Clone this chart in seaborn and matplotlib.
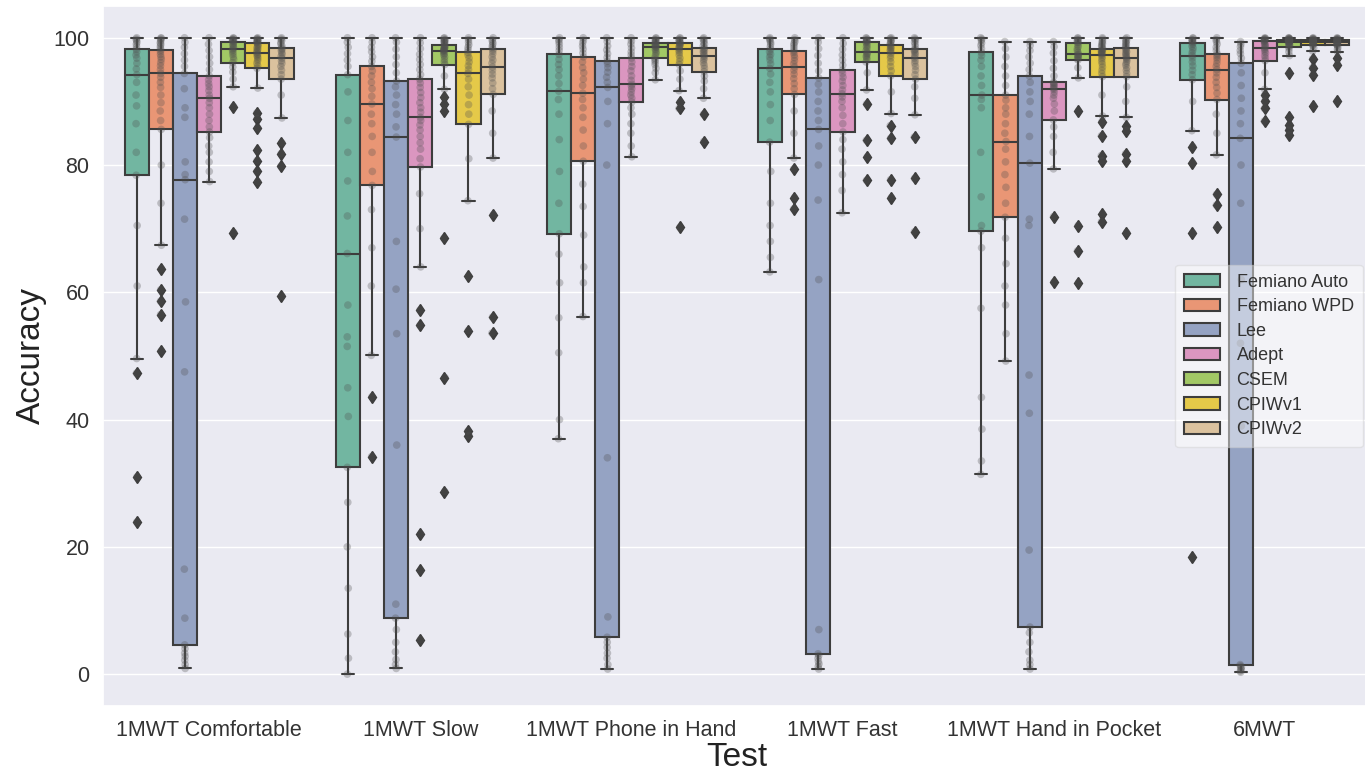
import numpy as np
import pandas as pd
import matplotlib
matplotlib.use("Agg")
import matplotlib.pyplot as plt
import seaborn as sns

# ---------------- data ----------------
tests = ["1MWT Comfortable", "1MWT Slow", "1MWT Phone in Hand",
         "1MWT Fast", "1MWT Hand in Pocket", "6MWT"]
algorithms = ["Femiano Auto", "Femiano WPD", "Lee", "Adept", "CSEM", "CPIWv1", "CPIWv2"]

comfortable = {
    "Femiano Auto": [23.9, 31.0, 47.3, 49.6, 61.0, 70.5, 78.4, 82.0, 86.5, 89.3, 91.0, 93.0, 94.2,
                     95.1, 96.0, 96.8, 97.3, 97.8, 98.2, 98.6, 99.0, 99.3, 99.6, 99.8, 100.0],
    "Femiano WPD": [50.8, 56.5, 58.6, 60.4, 63.7, 67.4, 74.0, 80.0, 85.6, 87.0, 88.5, 89.8, 91.0,
                    92.2, 93.0, 93.8, 94.4, 95.0, 95.6, 96.1, 96.6, 97.0, 97.4, 97.8, 98.1,
                    98.4, 98.7, 99.0, 99.2, 99.5, 99.7, 99.9, 100.0],
    "Lee": [0.9, 1.5, 2.2, 2.8, 3.3, 4.0, 4.6, 8.8, 16.5, 47.5, 58.5, 71.5, 77.7,
            78.5, 80.5, 87.5, 89.0, 92.0, 94.4, 95.5, 96.5, 97.5, 98.5, 99.3, 100.0],
    "Adept": [77.4, 79.0, 80.5, 82.0, 83.0, 84.3, 85.2, 86.0, 87.0, 88.0, 89.0, 89.8, 90.5,
              91.0, 91.7, 92.3, 92.8, 93.4, 94.0, 95.0, 96.0, 97.0, 98.0, 99.0, 100.0],
    "CSEM": [69.4, 89.2, 92.3, 93.5, 94.6, 95.4, 96.1, 96.6, 97.0, 97.4, 97.7, 98.0, 98.2,
             98.4, 98.6, 98.8, 99.0, 99.2, 99.4, 99.5, 99.6, 99.7, 99.8, 99.9, 100.0],
    "CPIWv1": [77.4, 79.0, 80.7, 82.3, 85.8, 87.3, 88.2, 92.1, 95.2, 95.6, 96.0, 96.4, 96.7,
               97.0, 97.2, 97.4, 97.6, 97.8, 98.0, 98.2, 98.4, 98.6, 98.8, 99.0, 99.2,
               99.3, 99.4, 99.5, 99.6, 99.7, 99.8, 99.9, 100.0],
    "CPIWv2": [59.4, 79.8, 81.8, 83.5, 87.4, 91.0, 93.5, 94.2, 94.9, 95.5, 96.0, 96.4, 96.8,
               97.1, 97.4, 97.7, 98.0, 98.2, 98.4, 98.7, 99.0, 99.3, 99.6, 99.8, 100.0],
}

slow = {
    "Femiano Auto": [0.0, 2.5, 6.3, 13.5, 20.0, 27.0, 32.5, 40.5, 45.0, 51.5, 53.0, 58.0, 66.1,
                     72.0, 77.5, 82.0, 87.0, 91.5, 94.2, 95.5, 96.5, 97.5, 98.5, 99.3, 100.0],
    "Femiano WPD": [34.2, 43.6, 50.1, 61.0, 67.0, 73.0, 76.8, 79.0, 82.0, 84.5, 86.5, 88.0, 89.6,
                    90.8, 92.0, 93.0, 94.0, 94.8, 95.5, 96.3, 97.0, 97.8, 98.5, 99.3, 100.0],
    "Lee": [0.9, 1.5, 2.3, 3.5, 5.0, 7.0, 8.8, 11.0, 36.0, 53.5, 60.5, 68.0, 84.4,
            86.0, 88.0, 89.5, 91.0, 92.3, 93.2, 94.5, 95.8, 97.0, 98.2, 99.3, 100.0],
    "Adept": [5.4, 16.3, 22.0, 54.8, 57.2, 64.0, 70.0, 75.5, 79.7, 81.0, 82.5, 83.5, 84.5,
              85.5, 86.3, 87.0, 87.5, 88.3, 89.0, 89.8, 90.6, 91.4, 92.2, 92.9, 93.5,
              94.2, 95.0, 95.8, 96.6, 97.4, 98.3, 99.2, 100.0],
    "CSEM": [28.7, 46.6, 68.5, 88.5, 89.6, 90.7, 91.9, 94.0, 95.8, 96.2, 96.6, 97.0, 97.3,
             97.5, 97.7, 97.9, 98.0, 98.1, 98.2, 98.3, 98.4, 98.5, 98.6, 98.8, 98.9,
             99.1, 99.3, 99.4, 99.5, 99.6, 99.7, 99.9, 100.0],
    "CPIWv1": [37.5, 38.2, 54.0, 62.5, 74.4, 81.0, 86.4, 88.0, 89.5, 91.0, 92.3, 93.5, 94.4,
               95.0, 95.6, 96.2, 96.8, 97.3, 97.7, 98.1, 98.5, 98.9, 99.3, 99.7, 100.0],
    "CPIWv2": [53.6, 56.1, 72.2, 81.1, 85.0, 88.5, 91.1, 92.0, 92.9, 93.7, 94.3, 94.9, 95.4,
               96.0, 96.5, 97.0, 97.5, 97.9, 98.2, 98.5, 98.8, 99.1, 99.4, 99.7, 100.0],
}

phone = {
    "Femiano Auto": [37.0, 40.0, 50.5, 56.0, 61.5, 66.0, 69.2, 74.0, 79.0, 84.0, 88.0, 90.3, 91.6,
                     92.8, 94.0, 95.0, 95.8, 96.6, 97.4, 98.0, 98.5, 99.0, 99.4, 99.7, 100.0],
    "Femiano WPD": [56.2, 61.5, 64.0, 69.0, 73.5, 77.0, 80.6, 83.0, 85.5, 87.5, 89.0, 90.3, 91.3,
                    92.5, 93.5, 94.5, 95.3, 96.2, 97.0, 97.6, 98.2, 98.7, 99.2, 99.6, 100.0],
    "Lee": [0.8, 1.5, 2.5, 3.3, 4.2, 5.0, 5.8, 9.0, 34.0, 80.0, 86.5, 90.0, 92.2,
            93.0, 93.8, 94.6, 95.3, 95.9, 96.3, 96.9, 97.5, 98.1, 98.7, 99.4, 100.0],
    "Adept": [81.3, 83.0, 85.0, 86.5, 88.0, 89.0, 89.9, 90.5, 91.0, 91.5, 92.0, 92.4, 92.7,
              93.3, 94.0, 94.8, 95.5, 96.2, 96.8, 97.3, 97.8, 98.4, 99.0, 99.5, 100.0],
    "CSEM": [93.4, 94.5, 95.2, 95.8, 96.2, 96.5, 96.8, 97.2, 97.5, 97.8, 98.1, 98.3, 98.5,
             98.6, 98.7, 98.8, 98.9, 99.0, 99.2, 99.3, 99.5, 99.6, 99.7, 99.9, 100.0],
    "CPIWv1": [70.2, 88.9, 89.9, 91.7, 93.5, 94.8, 95.8, 96.3, 96.8, 97.3, 97.7, 98.0, 98.3,
               98.5, 98.7, 98.8, 98.9, 99.1, 99.2, 99.3, 99.5, 99.6, 99.7, 99.9, 100.0],
    "CPIWv2": [83.7, 88.0, 90.5, 92.0, 93.2, 94.0, 94.7, 95.2, 95.7, 96.1, 96.5, 96.8, 97.1,
               97.3, 97.6, 97.8, 98.0, 98.2, 98.4, 98.7, 99.0, 99.3, 99.6, 99.8, 100.0],
}

fast = {
    "Femiano Auto": [63.2, 65.5, 68.0, 70.5, 74.0, 79.0, 83.6, 87.0, 89.5, 91.5, 93.0, 94.3, 95.2,
                     95.9, 96.5, 97.0, 97.4, 97.8, 98.2, 98.6, 99.0, 99.3, 99.6, 99.8, 100.0],
    "Femiano WPD": [73.1, 74.9, 79.4, 81.1, 85.0, 88.5, 91.1, 92.0, 92.8, 93.6, 94.3, 94.9, 95.4,
                    95.9, 96.4, 96.9, 97.3, 97.7, 98.0, 98.4, 98.8, 99.1, 99.4, 99.7, 100.0],
    "Lee": [0.8, 1.2, 1.6, 2.0, 2.5, 2.9, 3.2, 7.0, 62.0, 74.5, 80.0, 83.0, 85.6,
            87.0, 88.5, 90.0, 91.5, 92.7, 93.7, 94.8, 96.0, 97.2, 98.3, 99.3, 100.0],
    "Adept": [72.5, 76.0, 78.5, 80.5, 82.5, 84.0, 85.2, 86.5, 87.8, 89.0, 90.0, 90.7, 91.2,
              91.8, 92.5, 93.2, 93.8, 94.4, 94.9, 95.7, 96.5, 97.3, 98.2, 99.1, 100.0],
    "CSEM": [77.6, 81.3, 83.9, 89.6, 91.8, 94.5, 96.2, 96.6, 96.9, 97.1, 97.3, 97.5, 97.7,
             98.0, 98.3, 98.6, 98.8, 99.1, 99.3, 99.4, 99.5, 99.6, 99.7, 99.9, 100.0],
    "CPIWv1": [74.9, 77.7, 84.2, 86.2, 88.1, 91.5, 94.0, 94.8, 95.5, 96.2, 96.8, 97.2, 97.6,
               97.9, 98.1, 98.3, 98.5, 98.7, 98.9, 99.1, 99.3, 99.5, 99.7, 99.9, 100.0],
    "CPIWv2": [69.5, 77.9, 84.4, 87.9, 90.5, 92.3, 93.5, 94.2, 94.9, 95.5, 96.0, 96.4, 96.8,
               97.1, 97.4, 97.7, 97.9, 98.1, 98.2, 98.6, 99.0, 99.3, 99.6, 99.8, 100.0],
}

pocket = {
    "Femiano Auto": [31.4, 33.5, 38.5, 43.5, 57.5, 67.0, 69.6, 70.5, 75.0, 82.0, 89.0, 90.3, 91.0,
                     92.5, 94.0, 95.5, 96.5, 97.2, 97.7, 98.3, 98.8, 99.2, 99.6, 99.8, 100.0],
    "Femiano WPD": [49.2, 53.5, 58.0, 61.0, 64.5, 68.5, 71.8, 74.0, 76.5, 78.5, 80.5, 82.5, 83.7,
                    85.0, 86.5, 88.0, 89.0, 90.2, 91.0, 92.5, 94.0, 95.5, 97.0, 98.3, 99.4],
    "Lee": [0.8, 1.5, 2.2, 3.5, 5.0, 6.5, 7.4, 19.5, 41.0, 47.0, 70.5, 71.5, 80.3,
            84.5, 88.0, 90.0, 91.5, 93.0, 94.0, 95.0, 96.0, 97.0, 98.0, 98.8, 99.4],
    "Adept": [61.6, 71.9, 79.4, 82.0, 84.5, 86.0, 87.1, 88.5, 89.6, 90.5, 91.0, 91.5, 91.9,
              92.1, 92.3, 92.5, 92.7, 92.9, 93.0, 94.0, 95.2, 96.4, 97.6, 98.6, 99.4],
    "CSEM": [61.5, 66.5, 70.5, 88.5, 93.7, 95.3, 96.5, 96.7, 96.9, 97.0, 97.1, 97.3, 97.4,
             97.7, 98.0, 98.3, 98.6, 98.9, 99.2, 99.3, 99.5, 99.6, 99.7, 99.9, 100.0],
    "CPIWv1": [71.1, 72.3, 80.7, 81.5, 84.6, 86.8, 87.7, 91.0, 93.9, 94.4, 94.9, 95.4, 95.9,
               96.3, 96.7, 97.0, 97.3, 97.45, 97.6, 97.7, 97.8, 97.9, 98.0, 98.15, 98.3,
               98.5, 98.7, 98.9, 99.1, 99.3, 99.5, 99.8, 100.0],
    "CPIWv2": [69.4, 80.7, 81.8, 85.4, 86.1, 87.5, 90.0, 92.3, 93.9, 94.4, 94.9, 95.3, 95.7,
               96.0, 96.3, 96.6, 96.8, 97.0, 97.2, 97.4, 97.6, 97.8, 98.0, 98.2, 98.4,
               98.6, 98.8, 99.0, 99.2, 99.4, 99.6, 99.8, 100.0],
}

six_min = {
    "Femiano Auto": [18.4, 69.3, 80.3, 82.9, 85.4, 90.0, 93.4, 94.2, 94.9, 95.6, 96.2, 96.8, 97.2,
                     97.6, 98.0, 98.4, 98.7, 99.0, 99.2, 99.4, 99.5, 99.6, 99.7, 99.9, 100.0],
    "Femiano WPD": [70.3, 73.7, 75.4, 81.6, 85.0, 88.0, 90.3, 91.3, 92.2, 93.0, 93.8, 94.5, 95.0,
                    95.5, 96.0, 96.5, 96.9, 97.2, 97.5, 98.0, 98.5, 99.0, 99.4, 99.7, 100.0],
    "Lee": [0.3, 0.5, 0.7, 0.9, 1.1, 1.3, 1.5, 39.0, 52.0, 62.0, 74.0, 80.0, 84.2,
            86.5, 88.5, 90.5, 92.5, 94.5, 96.0, 96.8, 97.5, 98.0, 98.6, 99.0, 99.4],
    "Adept": [86.9, 88.9, 90.0, 91.0, 91.9, 94.5, 96.4, 96.8, 97.2, 97.6, 97.9, 98.2, 98.4,
              98.6, 98.8, 99.0, 99.2, 99.4, 99.5, 99.6, 99.7, 99.8, 99.85, 99.9, 100.0],
    "CSEM": [84.7, 85.5, 86.3, 87.5, 94.4, 97.2, 97.8, 98.3, 98.6, 98.75, 98.9, 99.0, 99.1,
             99.2, 99.3, 99.35, 99.4, 99.42, 99.45, 99.48, 99.5, 99.53, 99.56, 99.58, 99.6,
             99.65, 99.7, 99.75, 99.8, 99.85, 99.9, 99.95, 100.0],
    "CPIWv1": [89.3, 94.2, 95.3, 96.7, 97.9, 98.4, 98.8, 98.9, 99.0, 99.1, 99.15, 99.25, 99.3,
               99.35, 99.4, 99.45, 99.5, 99.55, 99.6, 99.65, 99.7, 99.8, 99.85, 99.9, 100.0],
    "CPIWv2": [90.0, 95.8, 96.8, 97.8, 98.2, 98.5, 98.8, 98.9, 99.0, 99.1, 99.15, 99.25, 99.3,
               99.35, 99.4, 99.45, 99.5, 99.55, 99.6, 99.65, 99.7, 99.8, 99.85, 99.9, 100.0],
}

per_test = [comfortable, slow, phone, fast, pocket, six_min]

rows = []
for test, table in zip(tests, per_test):
    for alg in algorithms:
        for v in table[alg]:
            rows.append((test, alg, v))
df = pd.DataFrame(rows, columns=["Test", "Algorithm", "Accuracy"])

# ---------------- style ----------------
sns.set_theme(style="darkgrid")
plt.rcParams["font.family"] = ["Liberation Sans", "DejaVu Sans"]
np.random.seed(3)

fig = plt.figure(figsize=(13.65, 7.74), dpi=100)
ax = fig.add_axes([0.0758, 0.0879, 0.9282, 0.9044])

palette = sns.color_palette("Set2", 7)
line_gray = "#3d3d3d"

sns.boxplot(data=df, x="Test", y="Accuracy", hue="Algorithm", order=tests,
            hue_order=algorithms, palette=palette, saturation=0.75, width=0.8,
            linewidth=1.5, linecolor=line_gray,
            flierprops=dict(marker="d", markerfacecolor=line_gray,
                            markeredgecolor=line_gray, markersize=6),
            ax=ax)

sns.stripplot(data=df, x="Test", y="Accuracy", hue="Algorithm", order=tests,
              hue_order=algorithms, palette=["#505050"] * 7, dodge=True,
              jitter=0.022, size=5.5, alpha=0.3, linewidth=0, legend=False, ax=ax)

ax.set_xlim(-0.5, 5.5)
ax.set_ylim(-5, 105)
ax.set_yticks([0, 20, 40, 60, 80, 100])
ax.tick_params(axis="both", labelsize=15.5, pad=4, labelcolor="#333333")
ax.set_xlabel("Test", fontsize=24, labelpad=1, color="#222222")
ax.set_ylabel("Accuracy", fontsize=24, labelpad=5, color="#222222")

handles, labels = ax.get_legend_handles_labels()
leg = ax.legend(handles[:7], labels[:7], loc="center right",
                bbox_to_anchor=(1.001, 0.5), fontsize=13, frameon=True,
                facecolor="white", framealpha=0.45, edgecolor="#d0d0d0",
                handlelength=2.0, handleheight=0.7, labelspacing=0.42,
                borderpad=0.5, handletextpad=0.9)
for t in leg.get_texts():
    t.set_color("#333333")

fig.savefig("out.png", dpi=100)
